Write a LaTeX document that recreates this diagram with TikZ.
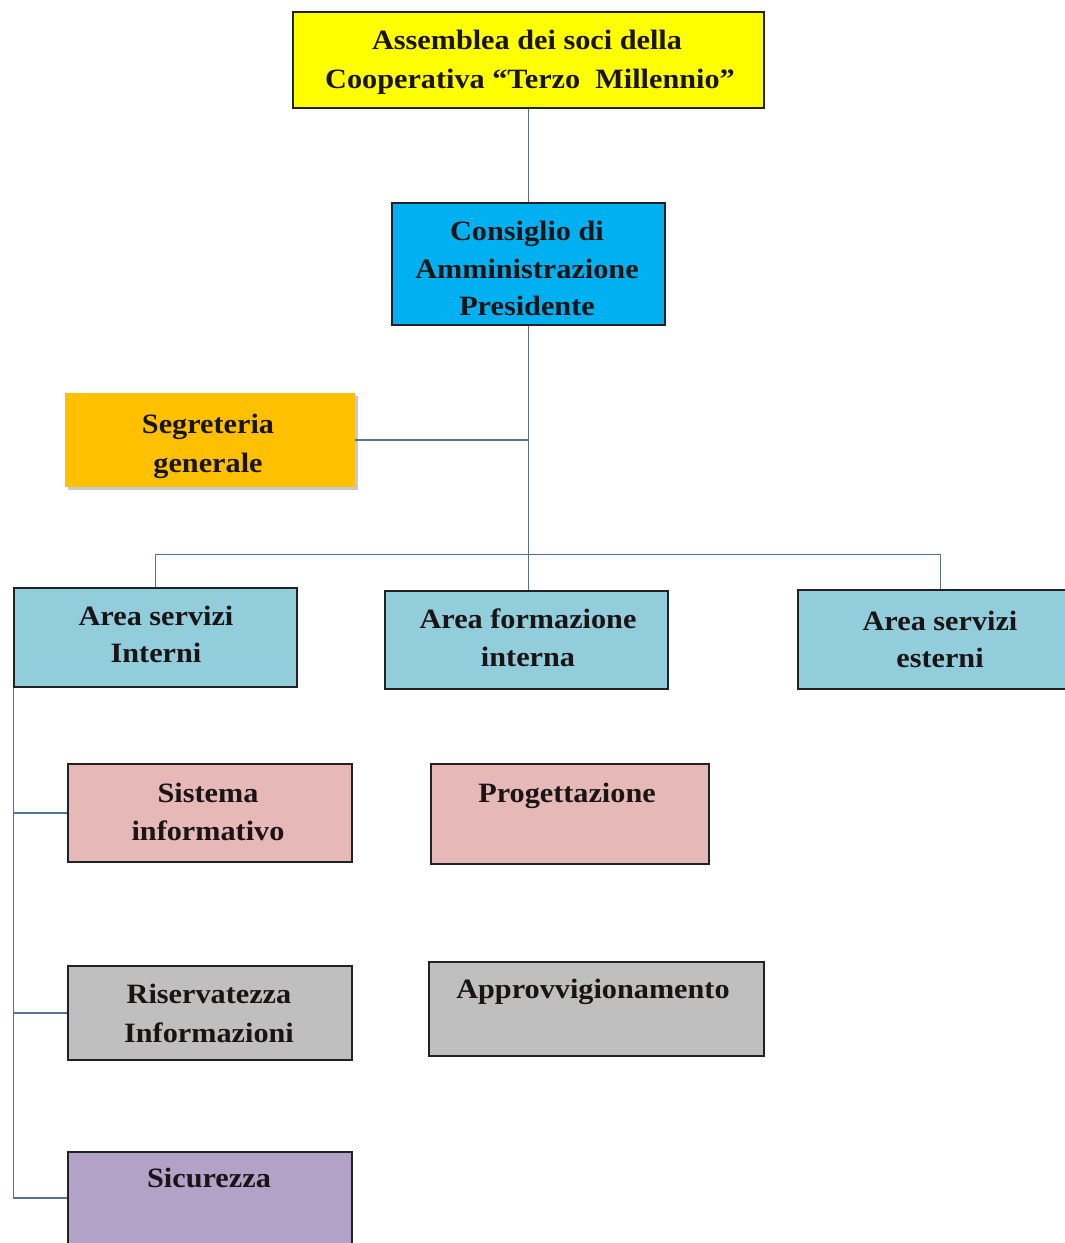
\documentclass[tikz,border=0pt]{standalone}
\usepackage{fontspec}
\setmainfont{Liberation Serif}[FakeStretch=1.08]
\usetikzlibrary{shadows}
\definecolor{cYel}{HTML}{FFFF00}
\definecolor{cBlue}{HTML}{00B0F0}
\definecolor{cOra}{HTML}{FFC000}
\definecolor{cLb}{HTML}{92CDDC}
\definecolor{cPink}{HTML}{E6B9B8}
\definecolor{cGray}{HTML}{BFBFBF}
\definecolor{cPur}{HTML}{B3A2C7}
\definecolor{cLine}{RGB}{85,115,145}
\definecolor{cBord}{HTML}{222222}
\definecolor{cTxt}{HTML}{1A1414}
\begin{document}
\begin{tikzpicture}[x=1pt,y=-1pt,
  box/.style={rectangle, draw=cBord, line width=1.6pt, inner sep=0pt},
  lbl/.style={anchor=base, inner sep=0pt, text=cTxt, font=\bfseries\fontsize{28}{34}\selectfont},
  conn/.style={draw=cLine, line width=1.4pt}]
\useasboundingbox[fill=white] (0,0) rectangle (1065,1243);
% boxes
\node[box, fill=cYel, minimum width=471pt, minimum height=96pt] (A) at (528.5,60) {};
\node[box, fill=cBlue, minimum width=273pt, minimum height=122pt] (C) at (528.5,264) {};
\node[rectangle, inner sep=0pt, fill=cOra, minimum width=290pt, minimum height=94pt,
      drop shadow={shadow xshift=3pt, shadow yshift=-3pt, opacity=0.35, fill=black!60}] (S) at (210,440) {};
\node[box, fill=cLb, minimum width=283pt, minimum height=99pt] (I) at (155.5,637.5) {};
\node[box, fill=cLb, minimum width=283pt, minimum height=98pt] (F) at (526.5,640) {};
\node[box, fill=cLb, minimum width=285pt, minimum height=99pt] (E) at (940.5,639.5) {};
\node[box, fill=cPink, minimum width=284pt, minimum height=98pt] (SI) at (210,813) {};
\node[box, fill=cPink, minimum width=278pt, minimum height=100pt] (P) at (570,814) {};
\node[box, fill=cGray, minimum width=284pt, minimum height=94pt] (R) at (210,1013) {};
\node[box, fill=cGray, minimum width=335pt, minimum height=94pt] (AP) at (596.5,1009) {};
\node[box, fill=cPur, minimum width=284pt, minimum height=92pt] (SC) at (210,1198) {};
% texts
\node[lbl] (tA1) at (527,49) {Assemblea dei soci della};
\node[lbl] (tA2) at (530,88) {Cooperativa ``Terzo\ \ Millennio''};
\node[lbl] (tC1) at (527,240) {Consiglio di};
\node[lbl] (tC2) at (527,278) {Amministrazione};
\node[lbl] (tC3) at (527,315) {Presidente};
\node[lbl] (tS1) at (208,433) {Segreteria};
\node[lbl] (tS2) at (208,472) {generale};
\node[lbl] (tI1) at (156,625) {Area servizi};
\node[lbl] (tI2) at (156,662) {Interni};
\node[lbl] (tF1) at (528,628) {Area formazione};
\node[lbl] (tF2) at (528,666) {interna};
\node[lbl] (tE1) at (940,630) {Area servizi};
\node[lbl] (tE2) at (940,667) {esterni};
\node[lbl] (tSI1) at (208,802) {Sistema};
\node[lbl] (tSI2) at (208,840) {informativo};
\node[lbl] (tP) at (567,802) {Progettazione};
\node[lbl] (tR1) at (209,1003) {Riservatezza};
\node[lbl] (tR2) at (209,1042) {Informazioni};
\node[lbl] (tAP) at (593,998) {Approvvigionamento};
\node[lbl] (tSC) at (209,1187) {Sicurezza};
% connectors
\draw[conn] (A.south) -- (C.north);
\draw[conn] (C.south) -- (C.south |- F.north);
\draw[conn] (S.east) -- (S.east -| C.south);
\draw[conn] (I.north) -- ++(0,-33) -| (E.north);
\draw[conn] (I.south west) -- (I.south west |- SC.west) -- (SC.west);
\draw[conn] (I.south west |- SI.west) -- (SI.west);
\draw[conn] (I.south west |- R.west) -- (R.west);
\end{tikzpicture}
\end{document}
